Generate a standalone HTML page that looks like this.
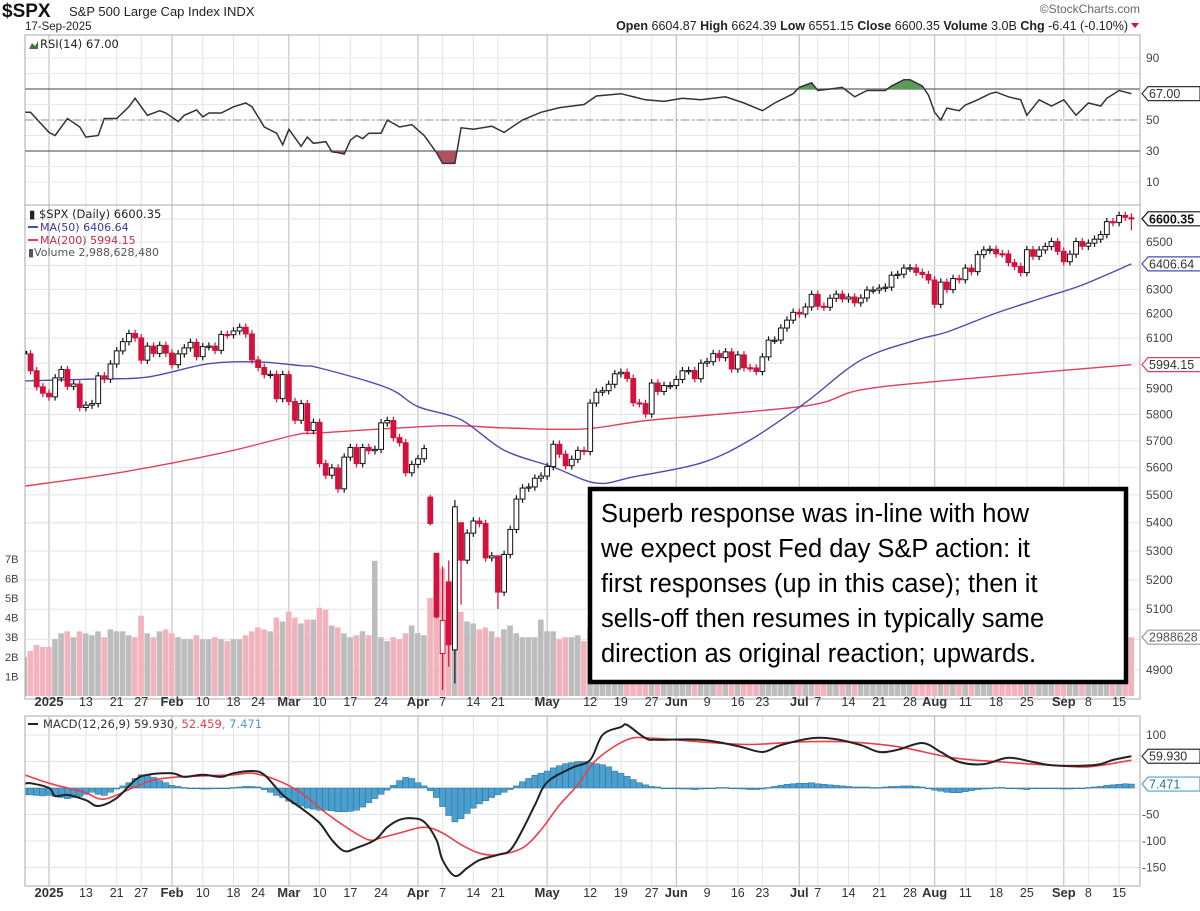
<!DOCTYPE html>
<html><head><meta charset="utf-8"><style>
html,body{margin:0;padding:0;background:#fff;}
svg{display:block;font-family:"Liberation Sans",sans-serif;}
.ax{font-size:12px;fill:#444;}
</style></head><body>
<svg id="chart" width="1200" height="911" viewBox="0 0 1200 911"></svg>
<script>
// ---- data (index 0 = 2 Jan 2025, -4 = 26 Dec 2024) ----
const firstIndex = -4;
const closes = [6037,5970,5907,5882,
5868,5942,5975,5909,5918,5827,5836,5842,5950,5937,5997,6049,6086,6119,6101,6012,6068,6039,6071,6040,
5994,6037,6061,6083,6026,6066,6068,6051,6115,6114,6129,6144,6117,6013,5983,5955,5956,5861,5955,
5850,5778,5842,5739,5770,5615,5572,5599,5522,5639,5675,5615,5675,5663,5668,5768,5777,5712,5693,5581,5612,
5633,5671,5397,5074,5062,4982,5457,5268,5363,5406,5397,5276,5283,5158,5288,5376,5485,5525,5529,5561,5569,
5604,5687,5650,5607,5631,5664,5660,5844,5886,5892,5917,5958,5964,5940,5845,5842,5802,5922,5889,5912,5912,
5936,5970,5971,5939,6000,6006,6038,6022,6045,5977,6033,5982,5981,5967,6025,6092,6092,6141,6173,6205,
6198,6227,6279,6230,6226,6263,6280,6260,6268,6244,6264,6297,6297,6305,6309,6359,6363,6389,6390,6371,6362,6339,
6238,6330,6299,6345,6340,6389,6374,6446,6466,6469,6450,6449,6412,6396,6370,6467,6439,6466,6481,6502,6460,
6416,6448,6502,6482,6495,6512,6532,6588,6584,6615,6607,6600.35];
const openOverrideDay = [58,61,62,63,64,65,66,67,176];
const openOverrideVal = [5693,5633,5492,5292,4953,5193,4965,5400,6604.87];
const wickHighDay = [62,63,64,65,66,67,73,176];
const wickHighVal = [5500,5292,5246,5267,5481,5400,5232,6624.39];
const wickLowDay = [62,63,64,65,66,67,73,176];
const wickLowVal = [5390,5069,4835,4910,4856,5115,5101,6551.15];
const volumes = [2.0,2.3,2.6,2.5,
2.5,2.9,3.2,3.3,3.0,3.3,3.2,3.1,3.3,3.0,3.4,3.3,3.3,3.1,3.0,4.1,3.2,3.0,3.3,3.4,
3.2,3.0,2.9,2.9,3.1,2.9,2.9,3.0,2.9,2.8,2.9,2.9,3.1,3.3,3.5,3.4,3.3,4.0,3.8,
4.3,4.0,3.7,3.9,3.9,4.5,4.4,3.6,3.5,3.2,3.0,3.1,3.3,3.1,6.9,3.0,2.8,3.0,2.9,3.2,3.6,
3.2,3.1,5.0,5.5,6.5,5.3,6.4,4.3,3.8,3.7,3.4,3.5,3.3,3.0,3.4,3.6,3.2,3.0,3.0,3.0,3.9,
3.3,3.3,2.9,3.0,3.0,3.1,2.8,3.5,3.2,3.0,3.0,3.1,2.8,2.8,3.2,2.9,2.9,3.0,2.8,3.0,3.8,
2.9,2.9,2.8,2.9,2.8,2.7,2.8,2.9,2.7,2.9,2.7,2.8,2.8,4.5,2.9,3.0,2.9,3.0,4.0,3.3,
3.0,3.0,2.5,2.9,2.8,2.9,2.8,2.9,2.7,2.9,2.9,3.0,3.3,2.9,3.0,3.0,2.8,2.7,2.8,2.9,3.0,3.5,
3.5,2.9,3.0,2.8,2.9,2.6,2.7,2.8,2.8,2.8,2.9,2.5,2.7,2.8,2.6,2.8,2.5,2.7,2.6,2.6,2.8,
3.0,2.9,2.7,3.0,2.8,3.0,3.0,2.9,2.9,3.1,3.0,3.0];
const ma50Day = [-4,8,16,26,34,41,44,55,60,67,74,82,89,95,106,114,123,132,141,146,154,162,168,176];
const ma50Val = [5930,5938,5945,5998,6005,5990,5981,5903,5830,5780,5665,5602,5543,5566,5617,5703,5846,6012,6092,6125,6202,6268,6318,6406.64];
const ma200Day = [-5,11,28,40,44,64,74,87,98,123,132,147,176];
const ma200Val = [5529,5580,5654,5722,5730,5757,5749,5745,5779,5833,5895,5934,5994.15];
const rsiDay = [-4,-3,0,1,3,5,6,8,9,11,13,14,16,18,19,21,22,24,25,26,28,30,32,33,35,37,38,39,41,42,43,45,46,47,48,49,50,51,52,54,55,57,59,61,63,64,65,66,67,69,72,74,77,80,83,87,89,93,97,100,103,106,110,113,116,118,121,122,124,125,127,129,130,131,133,136,137,139,140,142,143,144,145,146,148,149,151,153,154,156,158,159,161,163,165,167,169,171,172,174,176];
const rsiVal = [55,55,42,40,51,45.5,39,40,51,51,58.5,64,53,56,54.5,49,53,56.5,52,54.5,54.5,58.5,61,58.5,45.5,41.5,34,44,33,39,35,36,29.5,29,28,37,40,38,41.5,41.5,50,45.5,47,40,29,22,22,22,45,44,46,42,50,55,58,60,65.5,67,63,62,64,63,65,61,56,61,67,71,74,69,70,71,68,65,69,69,72,76,76,72,66,55,50,57.7,56,59.7,63,67,68,65,63,53,63,59,63,53,61,59,64,69,67];
const macdDay = [-4,-3,0,1,3,6,8,11,14,16,20,22,25,28,30,33,35,38,41,44,46,48,50,53,55,57,59,61,63,64,66,68,70,73,75,77,79,81,85,88,90,93,94,97,99,106,112,116,119,124,128,132,135,138,142,145,148,152,156,160,163,168,171,173,176];
const macdVal = [7.5,9,0,-15,-13,-23,-34,-19,15,25,28,21,25,21,28,32,25,-13,-38,-66,-98,-119,-113,-98,-74,-60,-57,-64,-98,-136,-166,-151,-136,-126,-117,-79,-32,11,38,53,100,115,119,94,91,91,79,68,81,94,92,81,68,72,85,68,49,45,57,49,43,42,45,53,59.93];
const signalDay = [-4,0,3,6,9,14,17,21,30,33,37,41,45,49,52,54,57,61,64,67,70,73,77,80,83,86,89,94,98,106,114,122,130,138,147,155,163,169,176];
const signalVal = [25,9,0,-9,-21,2,15,21,25,28,15,-9,-47,-79,-98,-94,-85,-74,-85,-107,-123,-126,-113,-79,-32,6,53,91,94,87,82,87,87,78,57,49,43,40,52.46];
const histVals = [-13,-13,-14,-15,
-14,-16,-18,-20,-18,-16,-12,-8,-12,-14,-8,-2,4,10,18,25,24,20,14,10,
5,3,1,0,-1,-2,-2,-1,-1,0,1,2,3,3,2,-3,-8,-14,-18,
-25,-30,-34,-38,-40,-42,-42,-43,-45,-45,-44,-42,-36,-28,-20,-12,-4,5,14,20,18,
10,4,-5,-18,-35,-52,-64,-58,-48,-38,-30,-24,-18,-13,-8,-3,4,12,18,24,28,
32,38,42,46,48,50,50,48,46,44,40,32,28,22,16,10,6,3,2,0,-1,
-1,-2,-2,-3,-2,-1,0,1,1,0,-1,-2,-3,-3,-2,1,3,5,7,8,
9,9,10,8,7,6,5,4,3,2,2,2,1,1,2,3,3,4,4,3,2,0,
-4,-6,-8,-9,-9,-7,-5,-3,-2,0,1,1,0,-1,-2,-3,-1,-1,0,0,-1,
-2,-2,-1,0,1,2,3,5,6,7,8,7.5];
const tickDay = [0,6,11,15,20,25,30,34,39,44,49,54,60,64,69,73,81,88,93,98,102,107,112,116,122,125,130,135,140,144,149,154,159,165,169,174];
const tickLabel = ["2025","13","21","27","Feb","10","18","24","Mar","10","17","24","Apr","7","14","21","May","12","19","27","Jun","9","16","23","Jul","7","14","21","28","Aug","11","18","25","Sep","8","15"];
const priceTicks = [6500,6300,6200,6100,5900,5800,5700,5600,5500,5400,5300,5200,5100,4900];
const priceGrid = [4900,5000,5100,5200,5300,5400,5500,5600,5700,5800,5900,6000,6100,6200,6300,6400,6500,6600];
const rsiTicks = [90,50,30,10];
const macdTicks = [100,-50,-100,-150];
const volTicks = [1,2,3,4,5,6,7];

// ---- scales ----
const L=25,R=1140;
const xs = i => 49 + i*6.15;
const yP = v => 242 + 1514*Math.log(6500/v);
const yR = r => 120 - (r-50)*1.55;
const yM = m => 788 - m*0.53;
const yV = b => 696 - b*19.6;
const NS="http://www.w3.org/2000/svg";
const svg=document.getElementById('chart');
function mk(tag, attrs, parent, text){
  const e=document.createElementNS(NS,tag);
  for(const k in attrs) e.setAttribute(k,attrs[k]);
  if(text!==undefined) e.textContent=text;
  (parent||svg).appendChild(e); return e;
}
function grp(name, parent){
  const g=mk('g',{},parent);
  
  
  return g;
}
// smooth path through points (Catmull-Rom)
function smooth(pts){
  let d='M'+pts[0][0].toFixed(1)+','+pts[0][1].toFixed(1);
  for(let k=0;k<pts.length-1;k++){
    const p0=pts[Math.max(k-1,0)],p1=pts[k],p2=pts[k+1],p3=pts[Math.min(k+2,pts.length-1)];
    const c1=[p1[0]+(p2[0]-p0[0])/6,p1[1]+(p2[1]-p0[1])/6];
    const c2=[p2[0]-(p3[0]-p1[0])/6,p2[1]-(p3[1]-p1[1])/6];
    d+=` C${c1[0].toFixed(1)},${c1[1].toFixed(1)} ${c2[0].toFixed(1)},${c2[1].toFixed(1)} ${p2[0].toFixed(1)},${p2[1].toFixed(1)}`;
  }
  return d;
}
const defs=mk('defs',{});
const cp=mk('clipPath',{id:'cpPrice'},defs); mk('rect',{x:L,y:205,width:R-L,height:494},cp);
const cr=mk('clipPath',{id:'cpRsi'},defs); mk('rect',{x:L,y:35,width:R-L,height:170},cr);
const cm=mk('clipPath',{id:'cpMacd'},defs); mk('rect',{x:L,y:716,width:R-L,height:170},cm);
const ca=mk('clipPath',{id:'cpAbove'},defs); mk('rect',{x:L,y:35,width:R-L,height:yR(70)-35},ca);
const cb=mk('clipPath',{id:'cpBelow'},defs); mk('rect',{x:L,y:yR(30),width:R-L,height:205-yR(30)},cb);

// ---- grids ----
const grid=grp('grid-lines');
[[35,205],[205,699],[716,886]].forEach(([t,b])=>{
  tickDay.forEach((d,k)=>{
    const isMonth=/[A-Za-z]|2025/.test(tickLabel[k]);
    mk('line',{x1:xs(d),x2:xs(d),y1:t,y2:b,stroke:isMonth?'#c8c8c8':'#e4e4e4','stroke-width':isMonth?1.3:1},grid);
  });
});
[10,20,30,40,50,60,70,80,90].forEach(r=>mk('line',{x1:L,x2:R,y1:yR(r),y2:yR(r),stroke:'#e8e8e8'},grid));
priceGrid.forEach(v=>mk('line',{x1:L,x2:R,y1:yP(v),y2:yP(v),stroke:'#e4e4e4'},grid));
[100,50,0,-50,-100,-150].forEach(m=>mk('line',{x1:L,x2:R,y1:yM(m),y2:yM(m),stroke:'#e4e4e4'},grid));
mk('line',{x1:L,x2:R,y1:yR(70),y2:yR(70),stroke:'#666','stroke-width':1.3},grid);
mk('line',{x1:L,x2:R,y1:yR(30),y2:yR(30),stroke:'#666','stroke-width':1.3},grid);
mk('line',{x1:L,x2:R,y1:yR(50),y2:yR(50),stroke:'#888','stroke-dasharray':'8,3,2,3'},grid);

// ---- RSI ----
const rsiG=grp('rsi-panel');
const rpts=rsiDay.map((d,k)=>xs(d).toFixed(1)+','+yR(rsiVal[k]).toFixed(1));
const x0=xs(rsiDay[0]), x1=xs(rsiDay[rsiDay.length-1]);
const fa=mk('polygon',{points:rpts.join(' ')+` ${x1},${yR(70)} ${x0},${yR(70)}`,fill:'#5a9a5a','clip-path':'url(#cpAbove)'},rsiG);


const fb=mk('polygon',{points:rpts.join(' ')+` ${x1},${yR(30)} ${x0},${yR(30)}`,fill:'#b05060','clip-path':'url(#cpBelow)'},rsiG);


const rl=mk('polyline',{points:rpts.join(' '),fill:'none',stroke:'#333','stroke-width':1.5,'clip-path':'url(#cpRsi)'},rsiG);



// ---- volume ----
const volG=grp('volume-bars');
volG.setAttribute('clip-path','url(#cpPrice)');
volumes.forEach((v,k)=>{
  const i=k+firstIndex;
  const down=k>0 && closes[k]<closes[k-1];
  const r=mk('rect',{x:xs(i)-3,y:yV(v),width:5.6,height:696-yV(v),fill:down?'#f2b3bd':'#bdbdbd'},volG);
  
  
});

// ---- moving averages ----
const maG=grp('moving-averages');
maG.setAttribute('clip-path','url(#cpPrice)');
const m200=mk('path',{d:smooth(ma200Day.map((d,k)=>[xs(d),yP(ma200Val[k])])),fill:'none',stroke:'#e0405a','stroke-width':1.4},maG);


const m50=mk('path',{d:smooth(ma50Day.map((d,k)=>[xs(d),yP(ma50Val[k])])),fill:'none',stroke:'#4c4cae','stroke-width':1.4},maG);



// ---- candles ----
const cG=grp('candlesticks');
cG.setAttribute('clip-path','url(#cpPrice)');
closes.forEach((c,k)=>{
  const i=k+firstIndex;
  let o = k>0 ? closes[k-1] : c+10;
  const oi=openOverrideDay.indexOf(i); if(oi>=0) o=openOverrideVal[oi];
  let hi=Math.max(o,c)*1.0025, lo=Math.min(o,c)*0.9975;
  const hI=wickHighDay.indexOf(i); if(hI>=0) hi=wickHighVal[hI];
  const lI=wickLowDay.indexOf(i); if(lI>=0) lo=wickLowVal[lI];
  const down = k>0 && c<closes[k-1];
  const col = down?'#d4103c':'#111';
  const filled = c<o;
  const x=xs(i);
  const g=mk('g',{},cG);
  
  
  mk('line',{x1:x,x2:x,y1:yP(hi),y2:yP(lo),stroke:col,'stroke-width':1.2},g);
  const top=yP(Math.max(o,c)), bot=yP(Math.min(o,c));
  mk('rect',{x:x-2.4,y:top,width:4.8,height:Math.max(1.2,bot-top),fill:filled?col:'#fff',stroke:col,'stroke-width':1},g);
});

// ---- MACD ----
const mG=grp('macd-panel');
mG.setAttribute('clip-path','url(#cpMacd)');
histVals.forEach((h,k)=>{
  const i=k+firstIndex;
  const y=yM(Math.max(h,0)), hgt=Math.abs(yM(h)-yM(0));
  const r=mk('rect',{x:xs(i)-3.1,y:y,width:6.15,height:Math.max(hgt,0.8),fill:'#4a9fcf',stroke:'#2c6f98','stroke-width':0.5},mG);
  
  
});
const sl=mk('path',{d:smooth(signalDay.map((d,k)=>[xs(d),yM(signalVal[k])])),fill:'none',stroke:'#e8404a','stroke-width':1.6},mG);


const ml=mk('path',{d:smooth(macdDay.map((d,k)=>[xs(d),yM(macdVal[k])])),fill:'none',stroke:'#222','stroke-width':2},mG);



// ---- panel frames ----
const fr=grp('panel-frames');
[[35,205],[205,699],[716,886]].forEach(([t,b])=>mk('rect',{x:L,y:t,width:R-L,height:b-t,fill:'none',stroke:'#aaa'},fr));

// ---- axes labels ----
const axG=grp('axis-labels');
[706,897].forEach(yy=>{
  tickDay.forEach((d,k)=>{
    const bold=/[A-Za-z]|2025/.test(tickLabel[k]);
    const t=mk('text',{x:xs(d),y:yy,'text-anchor':'middle','font-size':bold?13:12.5,'font-weight':bold?'bold':'normal',fill:'#333'},axG,tickLabel[k]);
    
    
  });
});
rsiTicks.forEach(r=>{const t=mk('text',{x:1146,y:yR(r)+4,class:'ax'},axG,String(r));});
priceTicks.forEach(v=>{const t=mk('text',{x:1146,y:yP(v)+4,class:'ax'},axG,String(v));});
macdTicks.forEach(m=>{const t=mk('text',{x:m<0?1142:1146,y:yM(m)+4,class:'ax'},axG,String(m));});
volTicks.forEach(b=>{const t=mk('text',{x:5,y:yV(b)+4,'font-size':11,fill:'#444'},axG,b+'B');});

function tag(y,txt,stroke,color,bold,name){
  const g=grp(name);
  const w=Math.max(52, txt.length*7.6+6);
  mk('path',{d:`M1142,${y} l6,-7 h${w} v14 h-${w} z`,fill:'#fff',stroke:stroke,'stroke-width':1.2},g);
  mk('text',{x:1149,y:y+4.5,'font-size':12.5,'font-weight':bold?'bold':'normal',fill:color},g,txt);
}
tag(yR(67),'67.00','#333','#333',false,'rsi-value-tag');
tag(yP(6600.35),'6600.35','#111','#111',true,'price-value-tag');
tag(yP(6406.64),'6406.64','#4c4cae','#333',false,'ma50-value-tag');
tag(yP(5994.15),'5994.15','#e0405a','#333',false,'ma200-value-tag');
tag(yV(3.0),'2988628','#999','#555',false,'volume-value-tag');
tag(yM(59.93),'59.930','#333','#333',false,'macd-value-tag');
tag(yM(7.471),'7.471','#4a9fcf','#2c6f98',false,'histogram-value-tag');
</script>
<svg width="1200" height="911" style="position:absolute;left:0;top:0;">
  <g font-family="Liberation Sans, sans-serif">
    <text x="2" y="17" font-size="19" font-weight="bold" fill="#111">$SPX</text>
    <text x="69" y="16" font-size="13" fill="#222">S&amp;P 500 Large Cap Index  INDX</text>
    <text x="25" y="30" font-size="11.5" fill="#222">17-Sep-2025</text>
    <text x="1140" y="13" font-size="12" fill="#666" text-anchor="end">©StockCharts.com</text>
    <text x="1128" y="30" font-size="12.5" fill="#222" text-anchor="end"><tspan font-weight="bold">Open</tspan> 6604.87  <tspan font-weight="bold">High</tspan> 6624.39  <tspan font-weight="bold">Low</tspan> 6551.15  <tspan font-weight="bold">Close</tspan> 6600.35  <tspan font-weight="bold">Volume</tspan> 3.0B  <tspan font-weight="bold">Chg</tspan> -6.41 (-0.10%)</text>
    <path d="M1131,23 l8,0 l-4,5 z" fill="#d4103c"/>
  </g>
  <g font-family="DejaVu Sans, sans-serif" font-size="11.5">
    <path d="M29,49 l3,-6 l3,3 l3,-5 l0,8 z" fill="#3a7a3a"/>
    <text x="40" y="48" fill="#222">RSI(14) 67.00</text>
  </g>
  <g font-family="DejaVu Sans, sans-serif" font-size="11">
    <text x="29" y="218" font-size="11.5" fill="#222">▮ $SPX (Daily) 6600.35</text>
    <line x1="28" y1="227" x2="38" y2="227" stroke="#4c4cae" stroke-width="2"/>
    <text x="40" y="231" fill="#3a3aa0">MA(50) 6406.64</text>
    <line x1="28" y1="240" x2="38" y2="240" stroke="#e0405a" stroke-width="2"/>
    <text x="40" y="244" fill="#c0304a">MA(200) 5994.15</text>
    <text x="28" y="256" fill="#555">▮Volume 2,988,628,480</text>
  </g>
  <g font-family="DejaVu Sans, sans-serif" font-size="11.5">
    <line x1="28" y1="724" x2="38" y2="724" stroke="#222" stroke-width="2"/>
    <text x="43" y="728" fill="#333">MACD(12,26,9) 59.930<tspan fill="#e0404a">, 52.459</tspan><tspan fill="#4a9fcf">, 7.471</tspan></text>
  </g>
  <g>
    <rect x="590" y="489" width="536" height="193" fill="#fff" stroke="#000" stroke-width="4.5"/>
    <text font-family="Liberation Sans, sans-serif" font-size="25.5" fill="#000">
      <tspan x="601" y="522">Superb response was in-line with how</tspan>
      <tspan x="601" y="557">we expect post Fed day S&amp;P action: it</tspan>
      <tspan x="601" y="592">first responses (up in this case); then it</tspan>
      <tspan x="601" y="627">sells-off then resumes in typically same</tspan>
      <tspan x="601" y="662">direction as original reaction; upwards.</tspan>
    </text>
  </g>
</svg>
</body></html>
